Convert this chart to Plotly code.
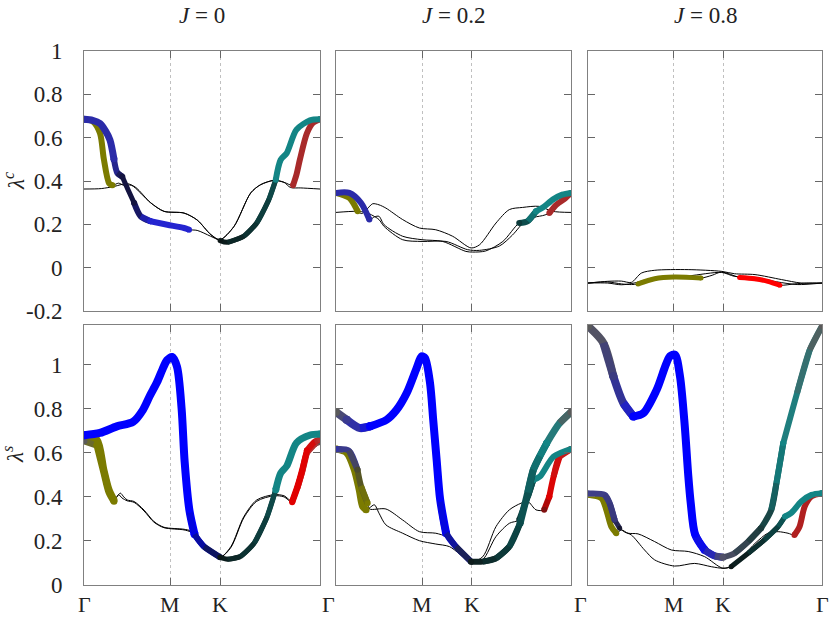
import plotly.graph_objects as go

# ---------------- axis / label data ----------------
X_TICK_POS = [0.0, 1.0, 1.577, 2.732]          # Γ, M, K, Γ
X_TICK_TXT = ["Γ", "M", "K", "Γ"]
TITLES = ["<i>J</i> = 0", "<i>J</i> = 0.2", "<i>J</i> = 0.8"]
ROW_LABELS = ["<i>λ</i><sup><i>c</i></sup>", "<i>λ</i><sup><i>s</i></sup>"]
TOP_YTICKS = [-0.2, 0, 0.2, 0.4, 0.6, 0.8, 1.0]
TOP_YTEXT = ["-0.2", "0", "0.2", "0.4", "0.6", "0.8", "1"]
BOT_YTICKS = [0, 0.2, 0.4, 0.6, 0.8, 1.0]
BOT_YTEXT = ["0", "0.2", "0.4", "0.6", "0.8", "1"]

# ---------------- J = 0, charge (lambda^c) ----------------
c0_l1_x = [0, 0.2, 0.35, 0.5, 0.6, 0.77, 0.926, 1.158, 1.31, 1.47, 1.575, 1.736, 1.93, 2.045, 2.2, 2.315, 2.39, 2.51, 2.732]
c0_l1_y = [0.363, 0.365, 0.375, 0.388, 0.37, 0.30, 0.26, 0.252, 0.22, 0.152, 0.129, 0.19, 0.345, 0.383, 0.403, 0.394, 0.37, 0.368, 0.363]
c0_l2_x = [0, 0.1, 0.185, 0.25, 0.30, 0.347, 0.386, 0.444, 0.51, 0.579, 0.656, 0.77, 0.965, 1.158, 1.216, 1.31, 1.466, 1.575, 1.66, 1.85, 2.0, 2.14, 2.22, 2.277, 2.347, 2.46, 2.616, 2.732]
c0_l2_y = [0.685, 0.68, 0.665, 0.63, 0.59, 0.50, 0.437, 0.42, 0.36, 0.30, 0.237, 0.214, 0.198, 0.183, 0.175, 0.172, 0.145, 0.125, 0.117, 0.145, 0.206, 0.314, 0.406, 0.498, 0.529, 0.637, 0.68, 0.685]
c0_l3_x = [0, 0.1, 0.185, 0.23, 0.29, 0.33, 0.40, 0.46, 0.55, 0.77, 0.926, 1.158, 1.31, 1.47, 1.575, 1.736, 1.93, 2.045, 2.2, 2.315, 2.42, 2.46, 2.50, 2.58, 2.65, 2.732]
c0_l3_y = [0.685, 0.675, 0.62, 0.50, 0.39, 0.38, 0.39, 0.38, 0.38, 0.30, 0.26, 0.252, 0.22, 0.152, 0.129, 0.19, 0.345, 0.383, 0.403, 0.394, 0.38, 0.43, 0.50, 0.62, 0.668, 0.685]

# ---------------- J = 0.2, charge ----------------
c2_a_x = [0, 0.155, 0.213, 0.252, 0.30, 0.36, 0.426, 0.50, 0.58, 0.775, 0.97, 1.16, 1.356, 1.57, 1.67, 1.86, 2.015, 2.17, 2.36, 2.52, 2.732]
c2_a_y = [0.345, 0.322, 0.29, 0.26, 0.25, 0.27, 0.295, 0.29, 0.275, 0.222, 0.183, 0.175, 0.145, 0.091, 0.106, 0.206, 0.268, 0.278, 0.283, 0.26, 0.255]
c2_b_x = [0, 0.155, 0.29, 0.388, 0.45, 0.50, 0.56, 0.775, 1.0, 1.24, 1.51, 1.59, 1.74, 1.94, 2.13, 2.23, 2.325, 2.40, 2.52, 2.63, 2.732]
c2_b_y = [0.345, 0.345, 0.299, 0.222, 0.235, 0.237, 0.198, 0.145, 0.129, 0.121, 0.075, 0.072, 0.077, 0.121, 0.206, 0.215, 0.26, 0.276, 0.314, 0.337, 0.345]
c2_c_x = [0, 0.233, 0.35, 0.43, 0.50, 0.56, 0.775, 1.0, 1.28, 1.53, 1.67, 1.9, 2.05, 2.2, 2.33, 2.40, 2.48, 2.56, 2.67, 2.732]
c2_c_y = [0.255, 0.26, 0.255, 0.24, 0.222, 0.19, 0.129, 0.121, 0.121, 0.083, 0.08, 0.10, 0.15, 0.215, 0.235, 0.24, 0.252, 0.29, 0.322, 0.345]

# ---------------- J = 0.8, charge ----------------
c8_a_x = [0, 0.23, 0.39, 0.506, 0.584, 0.778, 1.01, 1.32, 1.45, 1.56, 1.77, 1.946, 2.10, 2.24, 2.41, 2.55, 2.732]
c8_a_y = [-0.071, -0.066, -0.075, -0.078, -0.075, -0.051, -0.043, -0.048, -0.035, -0.02, -0.045, -0.051, -0.063, -0.081, -0.075, -0.071, -0.071]
c8_b_x = [0, 0.23, 0.39, 0.506, 0.623, 0.78, 1.17, 1.56, 1.71, 1.95, 2.26, 2.49, 2.732]
c8_b_y = [-0.071, -0.063, -0.062, -0.068, -0.025, -0.012, -0.009, -0.017, -0.028, -0.032, -0.055, -0.071, -0.071]
c8_c_x = [0, 0.23, 0.39, 0.55, 0.78, 1.17, 1.56, 1.71, 1.95, 2.2, 2.45, 2.732]
c8_c_y = [-0.071, -0.071, -0.079, -0.07, -0.045, -0.038, -0.022, -0.04, -0.045, -0.065, -0.078, -0.071]

# ---------------- J = 0, spin (lambda^s) ----------------
s0_a_x = [0, 0.185, 0.38, 0.567, 0.683, 0.764, 0.845, 0.91, 0.961, 1.02, 1.077, 1.13, 1.165, 1.22, 1.28, 1.39, 1.575, 1.66, 1.81, 1.97, 2.12, 2.22, 2.277, 2.347, 2.46, 2.616, 2.732]
s0_a_y = [0.68, 0.69, 0.72, 0.74, 0.795, 0.86, 0.92, 0.98, 1.02, 1.035, 0.99, 0.80, 0.56, 0.34, 0.23, 0.174, 0.126, 0.117, 0.129, 0.19, 0.31, 0.432, 0.508, 0.54, 0.645, 0.68, 0.685]
s0_b_x = [0, 0.15, 0.23, 0.29, 0.347, 0.42, 0.46, 0.50, 0.58, 0.695, 0.81, 0.926, 1.158, 1.235, 1.39, 1.575, 1.70, 1.85, 2.0, 2.2, 2.315, 2.41, 2.47, 2.53, 2.58, 2.67, 2.732]
s0_b_y = [0.68, 0.66, 0.523, 0.432, 0.386, 0.417, 0.40, 0.386, 0.379, 0.34, 0.288, 0.262, 0.253, 0.245, 0.174, 0.126, 0.174, 0.31, 0.386, 0.41, 0.405, 0.38, 0.447, 0.53, 0.61, 0.65, 0.66]
s0_c_x = [0, 0.15, 0.23, 0.29, 0.347, 0.40, 0.44, 0.50, 0.58, 0.695, 0.81, 0.926, 1.158, 1.235, 1.39, 1.575, 1.70, 1.85, 2.0, 2.2, 2.315, 2.41, 2.47, 2.53, 2.58, 2.67, 2.732]
s0_c_y = [0.655, 0.635, 0.51, 0.42, 0.38, 0.41, 0.395, 0.382, 0.375, 0.336, 0.285, 0.26, 0.25, 0.24, 0.17, 0.126, 0.17, 0.305, 0.38, 0.405, 0.40, 0.375, 0.44, 0.52, 0.60, 0.64, 0.65]

# ---------------- J = 0.2, spin ----------------
s2_a_x = [0, 0.124, 0.279, 0.395, 0.589, 0.705, 0.822, 0.938, 0.996, 1.035, 1.093, 1.13, 1.17, 1.21, 1.28, 1.395, 1.57, 1.705, 1.86, 2.015, 2.14, 2.23, 2.294, 2.37, 2.45, 2.60, 2.732]
s2_a_y = [0.785, 0.75, 0.712, 0.72, 0.75, 0.795, 0.871, 0.985, 1.038, 1.03, 0.917, 0.75, 0.568, 0.39, 0.235, 0.174, 0.106, 0.106, 0.121, 0.174, 0.28, 0.42, 0.523, 0.585, 0.644, 0.735, 0.785]
s2_b_x = [0, 0.124, 0.213, 0.27, 0.31, 0.35, 0.39, 0.446, 0.50, 0.58, 0.775, 0.97, 1.16, 1.32, 1.57, 1.705, 1.86, 2.015, 2.15, 2.23, 2.325, 2.42, 2.48, 2.53, 2.60, 2.732]
s2_b_y = [0.617, 0.60, 0.523, 0.432, 0.356, 0.341, 0.35, 0.364, 0.326, 0.273, 0.235, 0.201, 0.186, 0.174, 0.106, 0.128, 0.265, 0.341, 0.371, 0.379, 0.341, 0.341, 0.401, 0.492, 0.583, 0.617]
s2_c_x = [0, 0.15, 0.25, 0.29, 0.368, 0.39, 0.58, 0.775, 0.97, 1.16, 1.28, 1.32, 1.395, 1.57, 1.705, 1.86, 2.015, 2.13, 2.23, 2.294, 2.37, 2.53, 2.732]
s2_c_y = [0.617, 0.61, 0.523, 0.45, 0.371, 0.345, 0.345, 0.295, 0.242, 0.235, 0.22, 0.205, 0.174, 0.106, 0.115, 0.22, 0.28, 0.296, 0.40, 0.477, 0.492, 0.583, 0.617]

# ---------------- J = 0.8, spin ----------------
s8_a_x = [0, 0.179, 0.296, 0.412, 0.529, 0.646, 0.802, 0.957, 1.016, 1.074, 1.13, 1.17, 1.20, 1.25, 1.362, 1.48, 1.576, 1.71, 1.87, 2.02, 2.14, 2.20, 2.28, 2.44, 2.59, 2.732]
s8_a_y = [1.175, 1.099, 0.947, 0.826, 0.765, 0.78, 0.886, 1.038, 1.045, 0.947, 0.72, 0.50, 0.37, 0.23, 0.159, 0.132, 0.126, 0.144, 0.197, 0.258, 0.341, 0.462, 0.644, 0.87, 1.068, 1.175]
s8_b_x = [0, 0.156, 0.214, 0.272, 0.33, 0.39, 0.467, 0.584, 0.778, 0.973, 1.17, 1.36, 1.576, 1.71, 1.95, 2.10, 2.22, 2.335, 2.41, 2.47, 2.53, 2.61, 2.732]
s8_b_y = [0.41, 0.394, 0.341, 0.265, 0.235, 0.25, 0.235, 0.232, 0.197, 0.159, 0.152, 0.129, 0.076, 0.091, 0.189, 0.235, 0.242, 0.235, 0.227, 0.265, 0.356, 0.402, 0.415]
s8_c_x = [0, 0.195, 0.253, 0.311, 0.37, 0.43, 0.506, 0.66, 0.778, 1.01, 1.245, 1.44, 1.576, 1.67, 1.87, 2.06, 2.22, 2.30, 2.37, 2.49, 2.61, 2.732]
s8_c_y = [0.415, 0.409, 0.371, 0.295, 0.258, 0.24, 0.227, 0.159, 0.114, 0.086, 0.098, 0.083, 0.076, 0.083, 0.144, 0.205, 0.265, 0.311, 0.326, 0.379, 0.409, 0.417]

# ---------------- styles (colour runs along each band) ----------------
OLIVE = "#7b7b00"
BLUE = "#0000ff"
BLUE_D = "#2b2ba8"
TEAL = "#138585"
RED = "#e00000"
RED_D = "#a82a2a"
DARK = "#0b1616"
GRAY = "#5a5a5a"

# panel -> list of (x, y, [(i0, i1, c0, c1, width), ...]) in drawing order
PANELS = {
    1: [(c0_l1_x, c0_l1_y, []),
        (c0_l3_x, c0_l3_y, [(0, 5, OLIVE, OLIVE, 6), (20, 25, RED_D, RED_D, 6)]),
        (c0_l2_x, c0_l2_y, [(0, 5, BLUE_D, BLUE_D, 7), (5, 7, BLUE_D, "#141440", 6),
                            (7, 9, "#141440", "#141440", 5), (9, 11, "#141440", "#2424d0", 6),
                            (11, 14, "#2424d0", "#2424d0", 6), (17, 22, DARK, "#0e4e4e", 5),
                            (22, 27, TEAL, TEAL, 6)])],
    2: [(c2_a_x, c2_a_y, [(0, 3, OLIVE, OLIVE, 6)]),
        (c2_c_x, c2_c_y, [(16, 19, RED_D, RED_D, 6)]),
        (c2_b_x, c2_b_y, [(0, 3, BLUE_D, BLUE_D, 6), (14, 16, "#0c3a3a", TEAL, 6),
                          (16, 20, TEAL, TEAL, 6)])],
    3: [(c8_b_x, c8_b_y, []),
        (c8_c_x, c8_c_y, []),
        (c8_a_x, c8_a_y, [(4, 7, OLIVE, OLIVE, 5), (10, 13, "#ff0000", "#ff0000", 5)])],
    4: [(s0_c_x, s0_c_y, [(0, 1, GRAY, OLIVE, 7), (1, 4, OLIVE, OLIVE, 7),
                          (21, 25, RED, "#b03838", 6), (25, 26, "#b03838", GRAY, 6)]),
        (s0_b_x, s0_b_y, [(0, 4, OLIVE, OLIVE, 7), (21, 24, RED, RED, 6),
                          (24, 26, RED, "#b03030", 6)]),
        (s0_a_x, s0_a_y, [(0, 14, BLUE, BLUE, 8), (13, 16, BLUE, "#101840", 6),
                          (16, 21, DARK, "#0e4e4e", 5), (21, 26, TEAL, TEAL, 7)])],
    5: [(s2_b_x, s2_b_y, [(0, 5, OLIVE, OLIVE, 7), (21, 22, "#801010", RED, 6),
                          (22, 25, RED, "#c02020", 6)]),
        (s2_c_x, s2_c_y, [(0, 2, "#3535a0", "#4a4a50", 6), (2, 4, "#4a4a30", OLIVE, 6),
                          (17, 19, "#0c3030", "#0d5a5a", 6), (19, 22, TEAL, TEAL, 6)]),
        (s2_a_x, s2_a_y, [(0, 1, GRAY, "#3a3a90", 8), (1, 3, "#3a3a90", "#1010e8", 8),
                          (3, 14, BLUE, BLUE, 8), (13, 16, BLUE, "#202838", 6),
                          (16, 20, "#0e1c1c", "#0c4a4a", 6), (20, 24, "#0c4a4a", TEAL, 7),
                          (24, 26, TEAL, GRAY, 7)])],
    6: [(s8_b_x, s8_b_y, [(0, 4, OLIVE, OLIVE, 6), (18, 22, "#b02020", "#b02020", 6)]),
        (s8_c_x, s8_c_y, [(0, 3, "#40408a", "#36367a", 6), (3, 4, "#36367a", "#181830", 5),
                          (13, 17, DARK, "#0d5a5a", 5), (17, 21, TEAL, TEAL, 6)]),
        (s8_a_x, s8_a_y, [(0, 2, GRAY, "#3a3a80", 8), (2, 4, "#3a3a80", "#1a1ad8", 8),
                          (4, 14, BLUE, BLUE, 8), (13, 16, BLUE, "#505068", 7),
                          (16, 19, "#505068", "#1a3a3a", 6), (19, 22, "#1a3a3a", TEAL, 6),
                          (22, 25, TEAL, GRAY, 6)])],
}

# ---------------- helpers ----------------
def _rgb(c):
    c = c.lstrip("#")
    return [int(c[i:i + 2], 16) for i in (0, 2, 4)]


def _mix(c0, c1, t):
    a, b = _rgb(c0), _rgb(c1)
    return "#%02x%02x%02x" % tuple(int(round(a[i] + (b[i] - a[i]) * t)) for i in range(3))


def ax_names(idx):
    s = "" if idx == 1 else str(idx)
    return "x" + s, "y" + s


fig = go.Figure()
SPL = dict(shape="spline", smoothing=0.8)

for idx, bands in PANELS.items():
    xa, ya = ax_names(idx)
    # thin black bands first
    for xs, ys, _ in bands:
        fig.add_trace(go.Scatter(x=xs, y=ys, mode="lines", xaxis=xa, yaxis=ya,
                                 line=dict(color="black", width=1, **SPL),
                                 hoverinfo="skip", showlegend=False))
    # coloured weights on top
    for xs, ys, runs in bands:
        for i0, i1, c0, c1, w in runs:
            n = i1 - i0
            if c0 == c1:
                fig.add_trace(go.Scatter(x=xs[i0:i1 + 1], y=ys[i0:i1 + 1], mode="lines",
                                         xaxis=xa, yaxis=ya, line=dict(color=c0, width=w, **SPL),
                                         hoverinfo="skip", showlegend=False))
            else:
                for k in range(i0, i1):
                    t = (k + 0.5 - i0) / n
                    j1 = min(k + 2, i1)
                    fig.add_trace(go.Scatter(x=xs[k:j1 + 1], y=ys[k:j1 + 1], mode="lines",
                                             xaxis=xa, yaxis=ya,
                                             line=dict(color=_mix(c0, c1, t), width=w, **SPL),
                                             hoverinfo="skip", showlegend=False))
            # round caps at both ends of the run
            fig.add_trace(go.Scatter(x=[xs[i0], xs[i1]], y=[ys[i0], ys[i1]], mode="markers",
                                     xaxis=xa, yaxis=ya,
                                     marker=dict(size=w, color=[c0, c1], line=dict(width=0)),
                                     hoverinfo="skip", showlegend=False))

# ---------------- layout ----------------
W, H = 830, 617


def px_x(p):
    return p / W


def px_y(p):
    return 1 - p / H


XDOM = [(px_x(84), px_x(320)), (px_x(336), px_x(571)), (px_x(588), px_x(822))]
YDOM = [(px_y(311), px_y(51)), (px_y(585), px_y(325))]
FONT = "Liberation Serif"
TXT_C = "#222222"
LINE_C = "#808080"
TICK_C = "#666666"

layout = dict(width=W, height=H, margin=dict(l=0, r=0, t=0, b=0, autoexpand=False),
              paper_bgcolor="white", plot_bgcolor="white",
              font=dict(family=FONT, size=23, color=TXT_C), showlegend=False)

for r in range(2):
    for c in range(3):
        idx = r * 3 + c + 1
        s = "" if idx == 1 else str(idx)
        layout["xaxis" + s] = dict(domain=list(XDOM[c]), range=[0, X_TICK_POS[-1]], anchor="y" + s,
                                   tickvals=X_TICK_POS[1:3], showticklabels=False, automargin=False,
                                   ticks="inside", ticklen=7, tickcolor=TICK_C, mirror="ticks",
                                   showline=True, linecolor=LINE_C, linewidth=1,
                                   showgrid=True, gridcolor="#c0c0c0", griddash="dot", gridwidth=1,
                                   zeroline=False, fixedrange=True)
        if r == 0:
            yr, tv, tt = [-0.2, 1.0], TOP_YTICKS, TOP_YTEXT
        else:
            yr, tv, tt = [0, 1.18], BOT_YTICKS, BOT_YTEXT
        layout["yaxis" + s] = dict(domain=list(YDOM[r]), range=yr, anchor="x" + s,
                                   tickvals=tv, ticktext=tt, showticklabels=(c == 0),
                                   ticklabelstandoff=16, automargin=False,
                                   ticks="inside", ticklen=7, tickcolor=TICK_C, mirror="ticks",
                                   showline=True, linecolor=LINE_C, linewidth=1,
                                   showgrid=False, zeroline=False, fixedrange=True,
                                   tickfont=dict(family=FONT, size=23, color=TXT_C))

ann = []
for c in range(3):
    xa = "x" if c == 0 else "x" + str(c + 1)
    ann.append(dict(text=TITLES[c], xref=xa, yref="paper", x=X_TICK_POS[-1] / 2, y=px_y(16),
                    showarrow=False, xanchor="center", yanchor="middle",
                    font=dict(family=FONT, size=23, color=TXT_C)))
    bx = "x" + str(c + 4)
    for k, (pos, txt) in enumerate(zip(X_TICK_POS, X_TICK_TXT)):
        if k == 3 and c < 2:
            continue
        shift = -8 if (k == 0 and c > 0) else 0
        ann.append(dict(text=txt, xref=bx, yref="paper", x=pos, y=px_y(604), xshift=shift,
                        showarrow=False, xanchor="center", yanchor="middle",
                        font=dict(family=FONT, size=22, color=TXT_C)))
for r in range(2):
    ann.append(dict(text=ROW_LABELS[r], xref="paper", yref="paper", x=px_x(14),
                    y=(YDOM[r][0] + YDOM[r][1]) / 2, textangle=-90, showarrow=False,
                    xanchor="center", yanchor="middle",
                    font=dict(family=FONT, size=23, color=TXT_C)))
layout["annotations"] = ann

fig.update_layout(**layout)
# remove the browser's default 8 px page margin so the 830x617 figure fills the window
fig.write_html("out.html",
               config={"displayModeBar": False, "staticPlot": True},
               post_script="document.body.style.margin='0px';"
                           "document.documentElement.style.overflow='hidden';")
